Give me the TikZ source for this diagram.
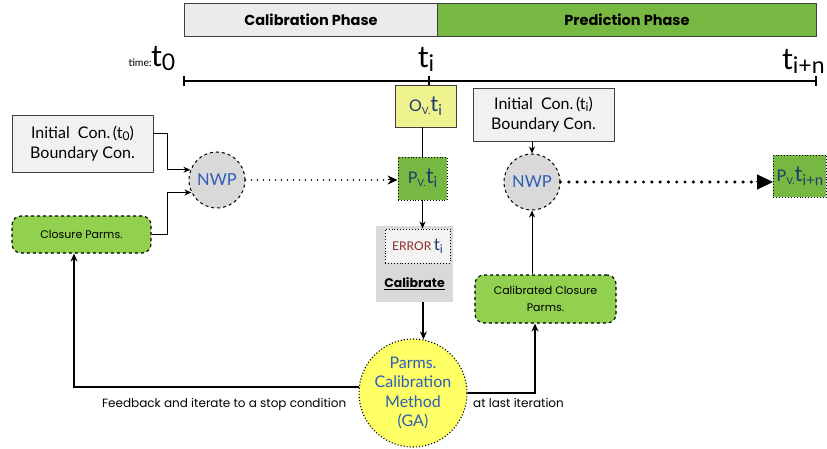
\documentclass[tikz,border=0pt]{standalone}
\usepackage{fontspec}
\setmainfont{Lato}
\newfontfamily\hand{Poppins}
\usetikzlibrary{arrows.meta}

\definecolor{calgray}{HTML}{EBEBEB}
\definecolor{predgreen}{HTML}{77B843}
\definecolor{boxgreen}{HTML}{92D050}
\definecolor{nwpgray}{HTML}{D9D9D9}
\definecolor{paleyellow}{HTML}{EEF28F}
\definecolor{gayellow}{HTML}{FFFF66}
\definecolor{inkblue}{HTML}{2D5FB5}
\definecolor{navy}{HTML}{1F3A6B}
\definecolor{errred}{HTML}{8B2A2A}
\definecolor{edge}{HTML}{404040}

\tikzset{
  phasebar/.style={draw=edge, line width=0.9pt, minimum height=33pt, inner sep=0pt, font=\hand\bfseries\fontsize{14.5}{16}\selectfont},
  infobox/.style={draw=edge, line width=0.9pt, fill=calgray!70, align=center, inner sep=0pt, font=\fontsize{16}{20}\selectfont},
  parmbox/.style={draw=black, dashed, line width=1.1pt, fill=boxgreen, rounded corners=9pt, align=center, inner sep=0pt, font=\hand\fontsize{11}{17}\selectfont},
  nwpnode/.style={circle, draw=black, dashed, line width=1pt, fill=nwpgray, minimum size=56pt, inner sep=0pt, text=inkblue, font=\fontsize{16.5}{18}\selectfont},
  valbox/.style={draw=black, dotted, line width=0.9pt, fill=predgreen, inner sep=0pt, text=navy},
  arr/.style={-{Stealth[length=7pt,width=6pt]}, line width=1pt},
  bigarr/.style={-{Stealth[length=8pt,width=7pt]}, line width=2pt},
  dotline/.style={line width=1.7pt, dash pattern=on 0pt off 6pt, line cap=round},
  bigdots/.style={line width=3.4pt, dash pattern=on 0pt off 8.3pt, line cap=round},
  note/.style={font=\hand\fontsize{12}{13}\selectfont, inner sep=0pt},
  tick/.style={line width=1.1pt}
}

\newcommand{\bigt}[1]{{\fontsize{30}{30}\selectfont t\raisebox{-4pt}{\fontsize{23}{23}\selectfont #1}}}
\newcommand{\valtext}[2]{{\fontsize{16}{16}\selectfont #1\raisebox{-3pt}{\fontsize{10}{10}\selectfont V.}\fontsize{22}{22}\selectfont t\raisebox{-4pt}{\fontsize{15}{15}\selectfont #2}}}

\begin{document}
\begin{tikzpicture}[x=1pt, y=-1pt]
\useasboundingbox[fill=white] (0,0) rectangle (827,449);

% phase bars
\node[phasebar, fill=calgray, minimum width=253pt, anchor=north west] (calbar) at (184,3) {Calibration Phase};
\node[phasebar, fill=predgreen, minimum width=379pt, anchor=north west] (predbar) at (437,3) {Prediction Phase};

% time axis
\coordinate (ax0) at (184,81);
\coordinate (axi) at (429,81);
\coordinate (axn) at (816,81);
\draw[line width=1.3pt] (ax0) -- (axn);
\draw[tick] (184,76) -- (184,86);
\draw[tick] (429,76) -- (429,86);
\draw[tick] (816,76) -- (816,86);

\node[font=\fontsize{10.5}{11}\selectfont, anchor=east, inner sep=0pt] (timelbl) at (152,63) {time:};
\node[anchor=west, inner sep=0pt] (t0lbl) at (151,59) {\bigt{0}};
\node[inner sep=0pt] (tilbl) at (426,59) {\bigt{i}};
\node[anchor=west, inner sep=0pt] (tnlbl) at (782,61) {\bigt{i+n}};

% calibration branch
\node[infobox, minimum width=141pt, minimum height=57pt] (init0) at (82.5,143.5)
  {Initial\ \ Con.\,(t\raisebox{-2.5pt}{\fontsize{12}{12}\selectfont 0})\\Boundary Con.};
\node[nwpnode] (nwp1) at (217,180) {NWP};
\node[parmbox, minimum width=139pt, minimum height=37pt] (clos0) at (81.5,234.5) {Closure Parms.};

\node[draw=edge, line width=0.9pt, fill=paleyellow, minimum width=61pt, minimum height=42pt, inner sep=0pt, text=navy] (ov) at (425.5,106)
  {\valtext{O}{i}};
\node[valbox, minimum width=49pt, minimum height=43pt] (pv) at (422.5,178.5) {\valtext{P}{i}};

\node[fill=nwpgray, minimum width=77pt, minimum height=76pt, inner sep=0pt] (panel) at (414.5,264) {};
\node[draw=black, dotted, line width=0.9pt, fill=calgray!60, minimum width=65pt, minimum height=34pt, inner sep=0pt] (err) at (417.5,246)
  {{\fontsize{12}{12}\selectfont\color{errred}ERROR}\ {\color{navy}\fontsize{17}{17}\selectfont t\raisebox{-3pt}{\fontsize{12}{12}\selectfont i}}};
\node[font=\hand\bfseries\fontsize{12.5}{14}\selectfont, inner sep=0pt] (calib) at (414.5,284) {\underline{Calibrate}};

\node[circle, draw=black, dotted, line width=1.1pt, fill=gayellow, minimum size=108pt, inner sep=0pt, align=center, text=inkblue, font=\fontsize{16}{19.5}\selectfont] (ga) at (413,393)
  {Parms.\\Calibration\\Method\\(GA)};

% prediction branch
\node[infobox, minimum width=141pt, minimum height=53pt] (init1) at (543.5,114.5)
  {Initial\ \ Con.\,(t\raisebox{-2.5pt}{\fontsize{12}{12}\selectfont i})\\Boundary Con.};
\node[nwpnode] (nwp2) at (532,182) {NWP};
\node[parmbox, minimum width=141pt, minimum height=48pt] (cclos) at (545.5,299) {Calibrated Closure\\Parms.};
\node[valbox, minimum width=53pt, minimum height=42pt, anchor=west] (pvn) at (773,176) {\valtext{P}{i+n}};

% connectors
\draw[arr] ([yshift=9.5pt]init0.east) -- ++(14,0) |- (nwp1.159);
\draw[arr] (clos0.east) -- ++(16,0) |- (nwp1.206);
\draw[dotline] (nwp1.east) -- ([xshift=-9pt]pv.west |- nwp1.east);
\draw[-{Stealth[length=10pt,width=9pt]}, line width=1pt] ([xshift=-10pt]pv.west |- nwp1.east) -- (pv.west |- nwp1.east);

\draw[line width=1pt] (pv.north |- ov.south) -- (pv.north);
\draw[arr] (pv.south) -- (pv.south |- err.north);
\draw[bigarr] (ga.79 |- panel.south) -- (ga.79);

\draw[bigarr] (ga.174) -| ([xshift=-7.5pt]clos0.south);
\node[note, anchor=north west] (fbk) at (102,398) {Feedback and iterate to a stop condition};

\draw[bigarr] (ga.east) -| ([xshift=-10.5pt]cclos.south);
\node[note, anchor=north west] (lastit) at (473,398) {at last iteration};

\draw[arr] (init1.south -| nwp2.north) -- (nwp2.north);
\draw[arr] (nwp2.south |- cclos.north) -- (nwp2.south);

\draw[bigdots] (nwp2.east) -- ([xshift=-20pt]pvn.west |- nwp2.east);
\draw[-{Triangle[length=16pt,width=15pt]}, line width=1pt] ([xshift=-17pt]pvn.west |- nwp2.east) -- (pvn.west |- nwp2.east);
\end{tikzpicture}
\end{document}
